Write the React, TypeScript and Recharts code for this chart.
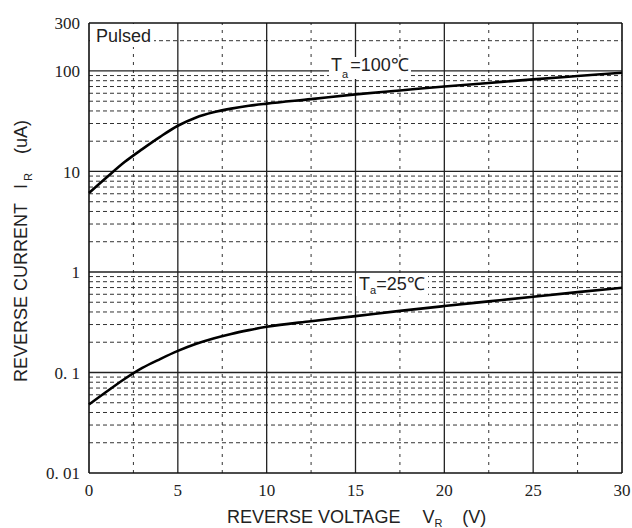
import React from "react";
import { LineChart, Line, XAxis, YAxis, ReferenceLine } from "recharts";

// reverse voltage (V)
const voltage = [0, 1, 2, 3, 4, 5, 6, 7, 8, 9, 10, 12.5, 15, 17.5, 20, 22.5, 25, 27.5, 30];
// reverse current (uA) at Ta = 100C
const current100 = [6.1, 8.75, 12.4, 16.7, 22.1, 28.5, 34.3, 38.8, 42.2, 45, 47.3, 52.5, 58.5, 64, 70, 76, 82.5, 89, 96];
// reverse current (uA) at Ta = 25C
const current25 = [0.048, 0.0646, 0.0861, 0.111, 0.136, 0.164, 0.192, 0.218, 0.242, 0.264, 0.285, 0.324, 0.364, 0.41, 0.458, 0.51, 0.568, 0.63, 0.697];

const xTicks = [0, 5, 10, 15, 20, 25, 30];
const yTicks = [0.01, 0.1, 1, 10, 100, 300];
const xMajorGrid = [5, 10, 15, 20, 25];
const xMinorGrid = [2.5, 7.5, 12.5, 17.5, 22.5, 27.5];
const yMajorGrid = [0.1, 1, 10, 100];
const yMinorGrid = [
  0.02, 0.03, 0.04, 0.05, 0.06, 0.07, 0.08, 0.09,
  0.2, 0.3, 0.4, 0.5, 0.6, 0.7, 0.8, 0.9,
  2, 3, 4, 5, 6, 7, 8, 9,
  20, 30, 40, 50, 60, 70, 80, 90,
  200,
];

const data = voltage.map((v, i) => ({ v, t100: current100[i], t25: current25[i] }));

const fmtY = (v: number) => (v === 0.01 ? "0. 01" : v === 0.1 ? "0. 1" : String(v));

const SANS = "'Liberation Sans', Arial, sans-serif";
const SERIF = "'Liberation Serif', 'Times New Roman', serif";
const INK = "#222";

const XTick = (props: any) => (
  <text x={props.x} y={props.y} dy="0.71em" textAnchor="middle" fontFamily={SERIF} fontSize={17} fill={INK}>
    {props.payload.value}
  </text>
);

const YTick = (props: any) => (
  <text x={props.x} y={props.y} dy="0.355em" textAnchor="end" fontFamily={SERIF} fontSize={17} fill={INK}>
    {fmtY(props.payload.value)}
  </text>
);

export default function App() {
  return (
    <div style={{ position: "absolute", left: 0, top: 0, width: 632, height: 528, background: "#fff" }}>
      <LineChart width={632} height={528} data={data} margin={{ top: 23, right: 10, bottom: 0, left: 0 }}>
        <XAxis
          dataKey="v"
          type="number"
          domain={[0, 30]}
          ticks={xTicks}
          height={55}
          axisLine={false}
          tickLine={false}
          tickMargin={5}
          tick={<XTick />}
        />
        <YAxis
          scale="log"
          domain={[0.01, 300]}
          ticks={yTicks}
          allowDataOverflow
          width={89}
          axisLine={false}
          tickLine={false}
          tickMargin={3}
          tick={<YTick />}
        />
        {yMinorGrid.map((y) => (
          <ReferenceLine key={`ym${y}`} y={y} stroke="#333" strokeWidth={1} strokeDasharray="4 3" />
        ))}
        {xMinorGrid.map((x) => (
          <ReferenceLine key={`xm${x}`} x={x} stroke="#333" strokeWidth={1} strokeDasharray="3 5" />
        ))}
        {yMajorGrid.map((y) => (
          <ReferenceLine key={`yM${y}`} y={y} stroke={INK} strokeWidth={1.3} />
        ))}
        {xMajorGrid.map((x) => (
          <ReferenceLine key={`xM${x}`} x={x} stroke={INK} strokeWidth={1.3} />
        ))}
        <ReferenceLine x={0} stroke="#111" strokeWidth={1.6} />
        <ReferenceLine x={30} stroke="#111" strokeWidth={1.6} />
        <ReferenceLine y={0.01} stroke="#111" strokeWidth={1.6} />
        <ReferenceLine y={300} stroke="#111" strokeWidth={1.6} />

        <Line dataKey="t100" type="monotone" stroke="#000" strokeWidth={2.6} dot={false} isAnimationActive={false} />
        <Line dataKey="t25" type="monotone" stroke="#000" strokeWidth={2.6} dot={false} isAnimationActive={false} />

        {/* axis titles */}
        <text x={27} y={382} transform="rotate(-90 27 382)" fontFamily={SANS} fontSize={18} fill={INK}>
          REVERSE CURRENT
          <tspan dx={14}>I</tspan>
          <tspan dx={3} dy={5} fontSize={11}>R</tspan>
          <tspan dx={19} dy={-5}>(uA)</tspan>
        </text>
        <text x={227} y={523} fontFamily={SANS} fontSize={18} fill={INK}>
          REVERSE VOLTAGE
          <tspan dx={22}>V</tspan>
          <tspan dy={4} fontSize={11}>R</tspan>
          <tspan dx={20} dy={-4}>(V)</tspan>
        </text>
      </LineChart>

      {/* in-plot annotations, drawn above the grid */}
      <svg width={632} height={528} style={{ position: "absolute", left: 0, top: 0, pointerEvents: "none" }}>
        <rect x={90} y={24} width={64} height={23} fill="#fff" />
        <text x={96} y={42} fontFamily={SANS} fontSize={18} fill={INK}>Pulsed</text>

        <rect x={329} y={57} width={82} height={22} fill="#fff" />
        <text x={331} y={71} fontFamily={SANS} fontSize={18} fill={INK}>
          T<tspan fontSize={11} dy={7}>a</tspan>
          <tspan dy={-7} dx={2}>=100℃</tspan>
        </text>

        <rect x={356} y={274} width={72} height={22} fill="#fff" />
        <text x={359} y={290} fontFamily={SANS} fontSize={18} fill={INK}>
          T<tspan fontSize={11} dy={4}>a</tspan>
          <tspan dy={-4}>=25℃</tspan>
        </text>
      </svg>
    </div>
  );
}
